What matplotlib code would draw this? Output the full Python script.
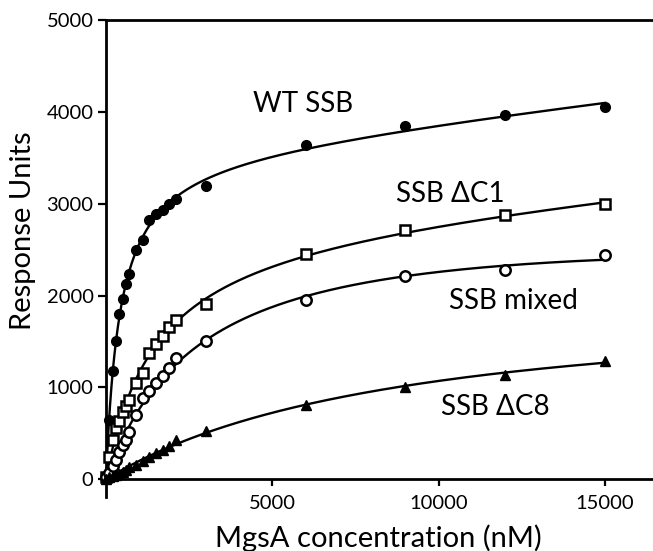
import matplotlib
matplotlib.use("Agg")
import matplotlib.pyplot as plt
import numpy as np

plt.rcParams['font.family'] = ['Lato', 'DejaVu Sans']

# MgsA concentration (nM), same titration for every SSB variant
conc = [0, 100, 200, 300, 400, 500, 600, 700, 900, 1100, 1300, 1500,
        1700, 1900, 2100, 3000, 6000, 9000, 12000, 15000]

# response units
wt_ssb = [20, 647, 1184, 1503, 1802, 1968, 2129, 2230, 2499, 2600, 2818, 2891,
          2935, 2992, 3054, 3188, 3635, 3842, 3967, 4054]
ssb_dc1 = [20, 240, 430, 560, 640, 730, 800, 860, 1050, 1160, 1380, 1475,
           1565, 1656, 1729, 1903, 2448, 2709, 2873, 2993]
ssb_mixed = [20, 70, 150, 210, 300, 370, 430, 520, 700, 890, 966, 1045,
             1125, 1213, 1320, 1503, 1954, 2208, 2273, 2437]
ssb_dc8 = [0, 20, 35, 50, 62, 80, 100, 130, 160, 200, 240, 285,
           320, 360, 430, 530, 814, 1010, 1140, 1285]

labels = ['WT SSB', 'SSB ΔC1', 'SSB mixed', 'SSB ΔC8']


def fit_curve(x, y, xs):
    # one-site binding + nonspecific term, least squares over a grid of Kd
    x = np.asarray(x, float)
    y = np.asarray(y, float)
    best = None
    for kd in np.logspace(1, 5, 400):
        A = np.column_stack([x / (kd + x), x])
        coef, res, _, _ = np.linalg.lstsq(A, y, rcond=None)
        err = np.sum((A @ coef - y) ** 2)
        if best is None or err < best[0]:
            best = (err, kd, coef)
    _, kd, coef = best
    return coef[0] * xs / (kd + xs) + coef[1] * xs


fig = plt.figure(figsize=(6.53, 5.51), dpi=100)
ax = fig.add_axes([106 / 653, 53.7 / 551, 1 - 106 / 653, (531 - 53.7) / 551])

xs = np.concatenate([np.linspace(0, 3000, 400), np.linspace(3000, 15000, 300)])

series = [
    (wt_ssb, dict(marker='o', ms=7, mfc='black', mec='black', mew=1)),
    (ssb_dc1, dict(marker='s', ms=7, mfc='white', mec='black', mew=1.8)),
    (ssb_mixed, dict(marker='o', ms=7.5, mfc='white', mec='black', mew=1.8)),
    (ssb_dc8, dict(marker='^', ms=6.5, mfc='black', mec='black', mew=1)),
]
for y, style in series:
    ax.plot(xs, fit_curve(conc, y, xs), color='black', lw=1.7, zorder=2)
    ax.plot(conc, y, ls='none', zorder=3, clip_on=False, **style)

ax.set_xlim(0, 547 / 0.03327)
ax.set_ylim(-196, 5000)

ax.spines['right'].set_visible(False)
ax.spines['bottom'].set_position(('data', 0))
ax.spines['left'].set_bounds(-196, 5000)
for s in ['left', 'bottom', 'top']:
    ax.spines[s].set_linewidth(2)

ax.set_xticks([5000, 10000, 15000])
ax.set_yticks([0, 1000, 2000, 3000, 4000, 5000])
ax.tick_params(axis='x', direction='out', length=5, width=1.6, labelsize=14.5, pad=6)
ax.tick_params(axis='y', direction='out', length=6, width=1.6, labelsize=14.5, pad=3)

ax.set_xlabel('MgsA concentration (nM)', fontsize=21)
ax.xaxis.set_label_coords(378 / 653, 1 - 547 / 551, transform=fig.transFigure)
ax.xaxis.label.set_va('baseline')

ax.set_ylabel('Response Units', fontsize=21)
ax.yaxis.set_label_coords(31 / 653, 1 - 330 / 551, transform=fig.transFigure)
ax.yaxis.label.set_va('baseline')
ax.yaxis.label.set_ha('left')

# series names, left edge / baseline in pixels
name_pos = [(252.7, 111.7), (396, 201.7), (449, 309), (441, 415)]
for name, (px, py) in zip(labels, name_pos):
    fig.text(px / 653, 1 - py / 551, name, fontsize=20, ha='left', va='baseline')

fig.savefig('out.png', dpi=100)
